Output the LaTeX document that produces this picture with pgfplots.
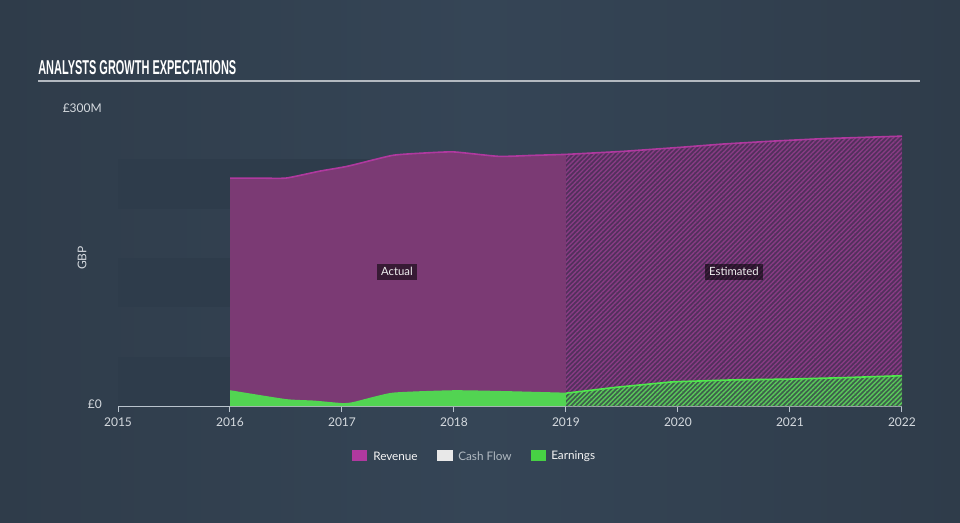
\documentclass[border=0pt]{standalone}
\usepackage{fontspec}
\setmainfont{Lato}
\newfontfamily\titlefont{Liberation Sans}
\usepackage{graphicx}
\usepackage{pgfplots}
\pgfplotsset{compat=1.18}
\usetikzlibrary{patterns.meta}

\definecolor{bgdark}{HTML}{2F3C4A}
\definecolor{bglight}{HTML}{354556}
\definecolor{band}{HTML}{2E3C4B}
\definecolor{revfill}{HTML}{7B3A74}
\definecolor{revline}{HTML}{B0399F}
\definecolor{revestbase}{HTML}{52305C}
\definecolor{revesthatch}{HTML}{883C84}
\definecolor{earnfill}{HTML}{52D452}
\definecolor{earnline}{HTML}{4FE84C}
\definecolor{earnestbase}{HTML}{3D604B}
\definecolor{earnesthatch}{HTML}{5AC85A}
\definecolor{axiscol}{HTML}{B9C3CD}
\definecolor{tick}{HTML}{D5DADF}
\definecolor{titleline}{HTML}{B3B9C0}

\begin{document}
\begin{tikzpicture}[x=0.75pt,y=0.75pt]
% background, 1 unit = 1 px of the reference, y measured upward
\shade[left color=bgdark, right color=bgdark, middle color=bglight] (0,0) rectangle (960,522);

\node[anchor=south west, inner sep=0pt, text=white] at (38,447)
  {\resizebox{148.5pt}{10.5pt}{\titlefont\bfseries ANALYSTS GROWTH EXPECTATIONS}};
\draw[line width=1.5pt, titleline] (38,441) -- (920,441);

\begin{axis}[
  at={(88.5pt,87pt)}, anchor=south west,
  width=588pt, height=222pt, scale only axis,
  xmin=2015, xmax=2022, ymin=0, ymax=300,
  axis x line*=bottom, axis y line=none,
  x axis line style={draw=axiscol, line width=0.75pt},
  xtick={2015,...,2022}, ytick=\empty,
  tick align=outside, major tick length=4.5pt,
  tick style={draw=axiscol, line width=0.75pt},
  xticklabel style={text=tick, font=\fontsize{9}{10}\selectfont, yshift=-1pt},
  /pgf/number format/1000 sep={},
  /pgf/number format/assume math mode=true,
]
% background bands
\fill[band] (axis cs:2015,0) rectangle (axis cs:2022,50);
\fill[band] (axis cs:2015,100) rectangle (axis cs:2022,150);
\fill[band] (axis cs:2015,200) rectangle (axis cs:2022,250);

% revenue, actual
\addplot[draw=none, fill=revfill, smooth, tension=0.3] coordinates {
  (2016,231) (2016.25,231) (2016.5,231) (2016.8,238) (2017.05,243)
  (2017.45,254) (2017.75,256.5) (2018,257.5) (2018.4,253) (2018.7,254) (2019,255)
} \closedcycle;
% revenue, estimated
\addplot[draw=none, fill=revestbase,
  postaction={pattern={Lines[angle=45, distance=2.5pt, line width=1.05pt]}, pattern color=revesthatch}]
  coordinates {
  (2019,255) (2019.5,258) (2020,262) (2020.4,265.5) (2020.85,268.5) (2021.3,271) (2022,273.5)
} \closedcycle;
% revenue line
\addplot[revline, line width=1.2pt, smooth, tension=0.3] coordinates {
  (2016,231) (2016.25,231) (2016.5,231) (2016.8,238) (2017.05,243)
  (2017.45,254) (2017.75,256.5) (2018,257.5) (2018.4,253) (2018.7,254) (2019,255)
};
\addplot[revline, line width=1.2pt] coordinates {
  (2019,255) (2019.5,258) (2020,262) (2020.4,265.5) (2020.85,268.5) (2021.3,271) (2022,273.5)
};

% earnings, actual
\addplot[draw=none, fill=earnfill, smooth, tension=0.3] coordinates {
  (2016,16) (2016.5,7) (2016.75,5.5) (2017,3) (2017.1,4) (2017.45,13.5)
  (2018,16) (2018.5,15) (2019,13.5)
} \closedcycle;
% earnings, estimated
\addplot[draw=none, fill=earnestbase,
  postaction={pattern={Lines[angle=45, distance=2.5pt, line width=1.05pt]}, pattern color=earnesthatch}]
  coordinates {
  (2019,13) (2019.45,19) (2019.95,24.5) (2020.5,26.5) (2021,27.3) (2021.5,28.8) (2022,30.7)
} \closedcycle;
\addplot[earnline, line width=1.2pt] coordinates {
  (2019,13) (2019.45,19) (2019.95,24.5) (2020.5,26.5) (2021,27.3) (2021.5,28.8) (2022,30.7)
};

\node[fill=black, fill opacity=0.55, text opacity=1, text=white!88!gray,
  font=\fontsize{8.5}{10}\selectfont, inner sep=3pt] at (axis cs:2017.49,136) {Actual};
\node[fill=black, fill opacity=0.55, text opacity=1, text=white!88!gray,
  font=\fontsize{8.5}{10}\selectfont, inner sep=3pt] at (axis cs:2020.5,136) {Estimated};
\end{axis}

% y labels
\node[anchor=east, text=tick, font=\fontsize{9}{10}\selectfont, inner sep=0pt] at (102,118) {£0};
\node[anchor=east, text=tick, font=\fontsize{9}{10}\selectfont, inner sep=0pt] at (102,414) {£300M};
\node[rotate=90, text=tick, font=\fontsize{9}{10}\selectfont, inner sep=0pt] at (82,264) {GBP};

% legend
\fill[revline] (352,61) rectangle (367,72);
\node[anchor=west, text=white!92!gray, font=\fontsize{8.8}{10}\selectfont, inner sep=0pt] at (373,66) {Revenue};
\fill[white!82!gray] (437,61) rectangle (453,72);
\node[anchor=west, text=axiscol!85!gray, font=\fontsize{8.8}{10}\selectfont, inner sep=0pt] at (458,66) {Cash Flow};
\fill[earnline!90!black] (531,61) rectangle (546,72);
\node[anchor=west, text=white!92!gray, font=\fontsize{8.8}{10}\selectfont, inner sep=0pt] at (551,66) {Earnings};
\end{tikzpicture}
\end{document}
